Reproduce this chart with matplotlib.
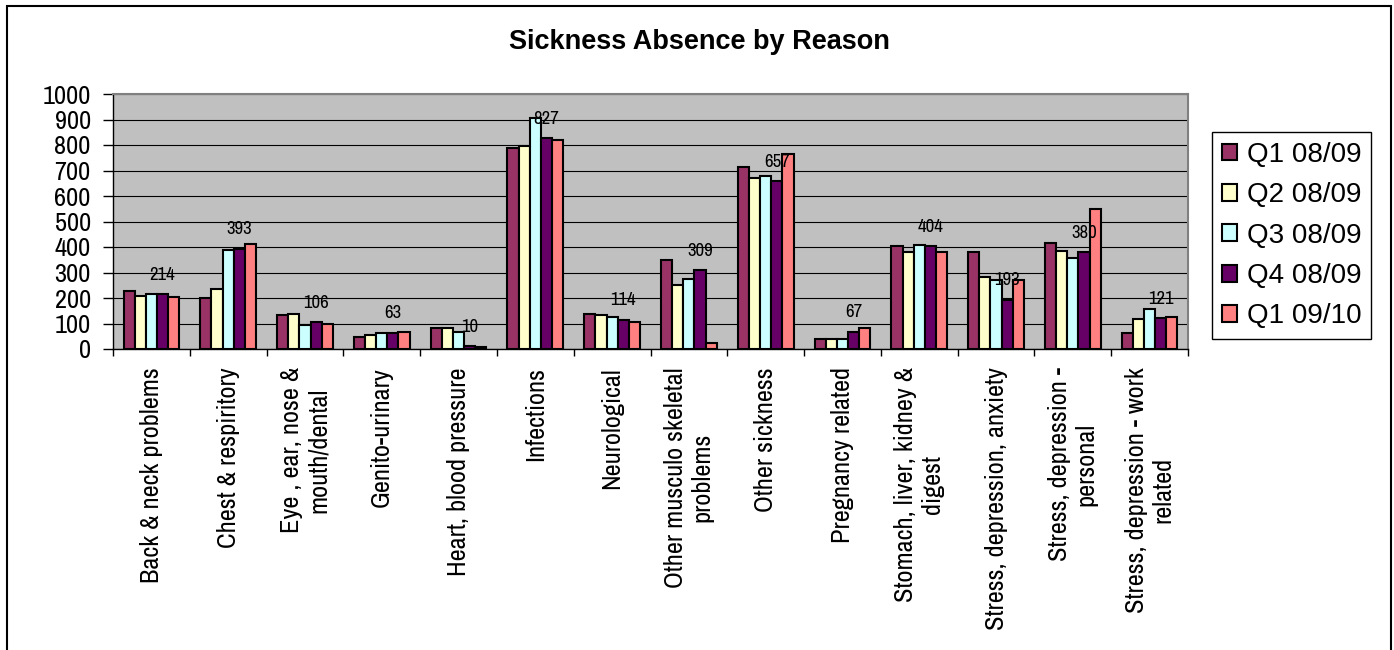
import numpy as np
import matplotlib
matplotlib.use("Agg")
import matplotlib.pyplot as plt
from matplotlib.patches import Rectangle

# Причины отсутствия по болезни и число дней по кварталам
reasons = [
    "Back & neck problems",
    "Chest & respiritory",
    "Eye , ear, nose &\nmouth/dental",
    "Genito-urinary",
    "Heart, blood pressure",
    "Infections",
    "Neurological",
    "Other musculo skeletal\nproblems",
    "Other sickness",
    "Pregnancy related",
    "Stomach, liver, kidney &\ndigest",
    "Stress, depression, anxiety",
    "Stress, depression -\npersonal",
    "Stress, depression - work\nrelated",
]
quarters = ["Q1 08/09", "Q2 08/09", "Q3 08/09", "Q4 08/09", "Q1 09/10"]

q1_0809 = [228, 199, 133, 46, 84, 787, 138, 349, 714, 41, 402, 382, 415, 64]
q2_0809 = [206, 236, 139, 55, 84, 795, 134, 252, 669, 38, 381, 283, 383, 117]
q3_0809 = [215, 388, 94, 62, 67, 905, 126, 276, 677, 38, 409, 270, 356, 157]
q4_0809 = [214, 393, 106, 63, 10, 827, 114, 309, 657, 67, 404, 193, 380, 121]
q1_0910 = [203, 411, 97, 67, 8, 821, 105, 24, 764, 84, 382, 269, 549, 127]

series = [q1_0809, q2_0809, q3_0809, q4_0809, q1_0910]
colors = ["#993366", "#FFFFCC", "#CCFFFF", "#660066", "#FF8080"]

narrow = ["Arial Narrow", "Liberation Sans Narrow", "Archivo Narrow",
          "Roboto Condensed", "IBM Plex Sans Condensed", "DejaVu Sans"]
regular = ["Liberation Sans", "DejaVu Sans"]

fig = plt.figure(figsize=(13.94, 6.5), dpi=100)
ax = fig.add_axes([113 / 1394, 1 - 349 / 650, (1188 - 113) / 1394, (349 - 94) / 650])
ax.set_facecolor("#C0C0C0")

n = len(reasons)
centers = np.arange(n) + 0.5
w = 0.145

for j, (vals, col) in enumerate(zip(series, colors)):
    ax.bar(centers + (j - 2) * w, vals, width=w, color=col,
           edgecolor="black", linewidth=1.5, label=quarters[j], zorder=3)

# подписи значений только для Q4 08/09
for x, v in zip(centers + w, q4_0809):
    ax.annotate(str(v), (x, v), xytext=(0, 14), textcoords="offset points",
                ha="center", va="center", fontsize=13.5, family=narrow, zorder=5)

ax.set_xlim(0, n)
ax.set_ylim(0, 1000)
ax.set_yticks(np.arange(0, 1001, 100))
ax.yaxis.grid(True, color="black", linewidth=0.8)
ax.set_axisbelow(True)
ax.tick_params(axis="y", length=7, width=1, pad=9, labelsize=19)
for lbl in ax.get_yticklabels():
    lbl.set_family(narrow)

ax.set_xticks(np.arange(0, n + 1))
ax.set_xticklabels([])
ax.tick_params(axis="x", which="major", length=5, width=1)
ax.set_xticks(centers, minor=True)
ax.set_xticklabels(reasons, minor=True, rotation=90, ha="center", va="top",
                   multialignment="center", fontsize=19, family=narrow)
ax.tick_params(axis="x", which="minor", length=0, pad=13)

for side in ("top", "right"):
    ax.spines[side].set_color("#808080")
    ax.spines[side].set_linewidth(1.5)
for side in ("left", "bottom"):
    ax.spines[side].set_color("black")
    ax.spines[side].set_linewidth(1)

fig.text(699 / 1394, 1 - 42 / 650, "Sickness Absence by Reason", ha="center",
         va="center", fontsize=19.5, fontweight="bold", family=regular)

leg = fig.legend(loc="upper left", bbox_to_anchor=(1212 / 1394, 1 - 132 / 650),
                 prop={"family": regular, "size": 20}, frameon=True,
                 fancybox=False, framealpha=1, edgecolor="black",
                 handlelength=0.55, handleheight=0.55, handletextpad=0.35,
                 labelspacing=0.52, borderpad=0.35, borderaxespad=0)
leg.get_frame().set_linewidth(1)

# рамка вокруг всей диаграммы
fig.add_artist(Rectangle((7 / 1394, -0.05), (1391 - 7) / 1394, 1.05 - 6 / 650,
                         transform=fig.transFigure, fill=False,
                         edgecolor="black", linewidth=1.5))

plt.savefig("out.png", dpi=100)
